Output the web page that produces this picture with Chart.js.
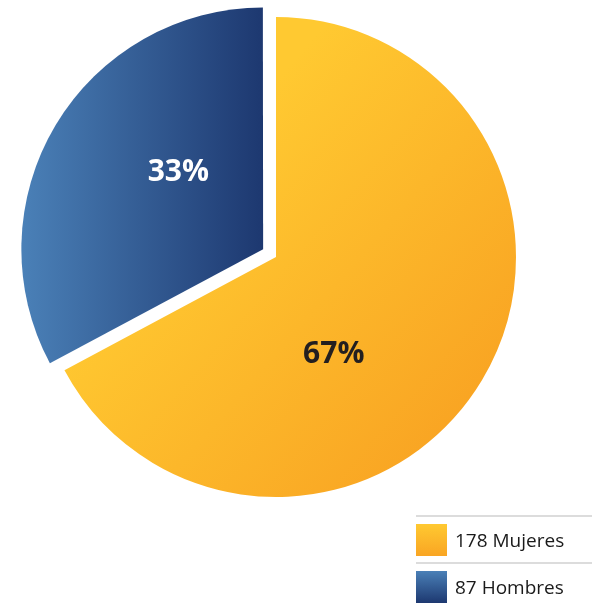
<!DOCTYPE html>
<html lang="es">
<head>
<meta charset="utf-8">
<title>Mujeres y Hombres</title>
<style>
  body { margin: 0; background: #fff; font-family: "Open Sans", sans-serif; }
  #wrap { position: relative; width: 592px; height: 605px; }
  #wrap canvas { position: absolute; left: 0; top: 0; }
  .rule { position: absolute; left: 416px; width: 176px; height: 2px; background: #dcdcdc; }
  .swatch { position: absolute; left: 416px; width: 31px; height: 32px; }
  .text { position: absolute; left: 455px; height: 32px; line-height: 32px; font-size: 19px; color: #1a1a1a; white-space: nowrap; }
</style>
</head>
<body>
<div id="wrap">
  <canvas id="pie" width="592" height="605"></canvas>
  <div id="legend"></div>
</div>
<script src="https://cdn.jsdelivr.net/npm/chart.js@4.4.1/dist/chart.umd.min.js"></script>
<script>
  // datos
  const labels = ['Mujeres', 'Hombres'];
  const counts = [178, 87];

  const total = counts.reduce((a, b) => a + b, 0);
  const percents = counts.map(v => Math.round(v / total * 100) + '%');

  // colores: [claro, oscuro]
  const fills = [['#ffc931', '#f9a523'], ['#4a80b7', '#1d3870']];
  const labelColors = ['#231f20', '#ffffff'];
  const R = 240;

  function sliceFill(c) {
    const area = c.chart.chartArea;
    const f = fills[c.dataIndex];
    if (!area) return f[0];
    const cx = (area.left + area.right) / 2;
    const cy = (area.top + area.bottom) / 2;
    const g = c.dataIndex === 0
      ? c.chart.ctx.createLinearGradient(cx - R * 0.6, cy - R * 0.8, cx + R * 0.9, cy + R * 0.5)
      : c.chart.ctx.createLinearGradient(cx - R, cy, cx, cy);
    g.addColorStop(c.dataIndex === 0 ? 0.25 : 0, f[0]);
    g.addColorStop(1, f[1]);
    return g;
  }

  const sliceLabels = {
    id: 'sliceLabels',
    afterDatasetsDraw(chart, args, opts) {
      const ctx = chart.ctx;
      chart.getDatasetMeta(0).data.forEach((arc, i) => {
        const p = arc.getProps(['x', 'y', 'startAngle', 'endAngle', 'outerRadius'], true);
        const shift = (arc.options.offset || 0) / 4;
        const half = (p.startAngle + p.endAngle) / 2;
        const a = p.startAngle + (p.endAngle - p.startAngle) * opts.angle[i];
        const r = p.outerRadius * opts.radius[i];
        const x = p.x + Math.cos(half) * shift + Math.cos(a) * r;
        const y = p.y + Math.sin(half) * shift + Math.sin(a) * r;
        ctx.save();
        ctx.font = 'bold 30px "Open Sans"';
        ctx.fillStyle = labelColors[i];
        ctx.textAlign = 'center';
        ctx.textBaseline = 'middle';
        ctx.fillText(percents[i], x, y + 1);
        ctx.restore();
      });
    }
  };

  new Chart(document.getElementById('pie'), {
    type: 'pie',
    data: {
      labels: labels,
      datasets: [{
        data: counts,
        backgroundColor: sliceFill,
        borderWidth: 0,
        offset: [0, 60]
      }]
    },
    options: {
      responsive: false,
      animation: false,
      events: [],
      radius: R,
      layout: { padding: { left: 0, top: 0, right: 40, bottom: 91 } },
      plugins: {
        legend: { display: false },
        tooltip: { enabled: false },
        sliceLabels: { angle: [0.617, 0.599], radius: [0.47, 0.48] }
      }
    },
    plugins: [sliceLabels]
  });

  // leyenda
  const legend = document.getElementById('legend');
  labels.forEach((name, i) => {
    const top = 515 + i * 47;
    const rule = document.createElement('div');
    rule.className = 'rule';
    rule.style.top = top + 'px';
    const sw = document.createElement('div');
    sw.className = 'swatch';
    sw.style.top = (top + 9) + 'px';
    sw.style.background = 'linear-gradient(to bottom, ' + fills[i][0] + ', ' + fills[i][1] + ')';
    const tx = document.createElement('div');
    tx.className = 'text';
    tx.style.top = (top + 9) + 'px';
    tx.textContent = counts[i] + ' ' + name;
    legend.append(rule, sw, tx);
  });
</script>
</body>
</html>
